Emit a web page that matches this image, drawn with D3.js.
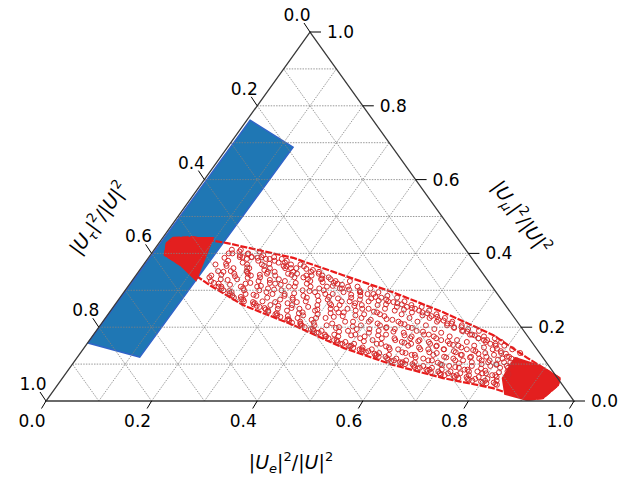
<!DOCTYPE html>
<html>
<head>
<meta charset="utf-8">
<script src="https://cdn.jsdelivr.net/npm/d3@7"></script>
<style>
  body { margin: 0; background: #fff; }
  text { font-family: "DejaVu Sans", sans-serif; fill: #000; }
</style>
</head>
<body>
<script>
// ternary coordinates are stored as [e, mu]; tau = 1 - e - mu
const tickValues = [0, 0.2, 0.4, 0.6, 0.8, 1.0];
const tickLabels = ['0.0', '0.2', '0.4', '0.6', '0.8', '1.0'];
const gridSteps = [0.1, 0.2, 0.3, 0.4, 0.5, 0.6, 0.7, 0.8, 0.9];

// blue band (tau-dominated points), dense enough to read as a filled region
const blueBand = [[0.006, 0.761], [0.124, 0.688], [0.118, 0.119], [0.001, 0.157]];

// red region outline (dense markers on the edge)
const redOutline = [
  [0.020, 0.442], [0.056, 0.444], [0.129, 0.428], [0.274, 0.388], [0.392, 0.341],
  [0.509, 0.295], [0.631, 0.241], [0.757, 0.179], [0.853, 0.117], [0.942, 0.062],
  [0.948, 0.043], [0.937, 0.008], [0.910, 0.003], [0.829, 0.035], [0.721, 0.062],
  [0.608, 0.098], [0.491, 0.144], [0.365, 0.206], [0.243, 0.260], [0.153, 0.314],
  [0.070, 0.369], [0.027, 0.396], [0.015, 0.428]
];
// saturated ends of the red region
const redLeftCap = [[0.015, 0.428], [0.020, 0.442], [0.095, 0.442], [0.120, 0.328], [0.070, 0.369], [0.027, 0.396]];
const redRightCap = [[0.830, 0.117], [0.888, 0.095], [0.942, 0.062], [0.948, 0.043], [0.937, 0.008], [0.910, 0.003], [0.860, 0.019], [0.834, 0.062]];

// interior red points [e, mu]
const redPointsA = [
  [.143,.34],[.136,.37],[.146,.40],[.158,.32],[.161,.35],[.155,.38],[.164,.41],[.166,.33],[.172,.39],
  [.177,.31],[.184,.345],[.175,.36],[.183,.40],[.186,.30],[.196,.37],[.188,.385],
  [.204,.295],[.197,.33],[.206,.35],[.195,.39],[.202,.405],[.214,.31],[.205,.36],[.212,.38],
  [.216,.28],[.225,.30],[.218,.34],[.224,.37],[.214,.395],[.233,.29],[.227,.32],[.236,.355],[.231,.385],
  [.236,.275],[.245,.31],[.238,.335],[.244,.36],[.237,.39],[.254,.30],[.246,.345],[.253,.375],
  [.263,.265],[.256,.285],[.264,.32],[.258,.35],[.266,.38],[.275,.27],[.268,.305],[.273,.36],[.265,.375],
  [.277,.255],[.284,.29],[.276,.33],[.286,.345],[.279,.37],[.295,.26],[.287,.315],[.293,.35],
  [.298,.245],[.306,.275],[.296,.30],[.303,.335],[.294,.36],[.314,.25],[.307,.29],[.313,.32],[.306,.365],
  [.317,.235],[.325,.265],[.316,.31],[.323,.34],[.328,.355],[.334,.245],[.327,.28],[.336,.30],[.331,.33],
  [.343,.23],[.336,.26],[.345,.285],[.338,.325],[.342,.35],[.347,.22],[.355,.25],[.346,.31],[.353,.34],
  [.364,.225],[.357,.27],[.362,.295],[.356,.33],[.374,.215],[.366,.24],[.372,.285],[.377,.31],[.368,.335],
  [.377,.21],[.384,.26],[.376,.30],[.385,.32],[.393,.22],[.387,.245],[.396,.275],[.386,.325],
  [.404,.195],[.397,.235],[.405,.265],[.398,.29],[.403,.315],[.406,.205],[.414,.25],[.408,.305],[.413,.325],
  [.424,.185],[.417,.225],[.425,.27],[.416,.295],[.427,.19],[.434,.24],[.426,.26],[.435,.31],
  [.443,.175],[.437,.21],[.446,.25],[.438,.28],[.444,.30],[.456,.18],[.447,.23],[.453,.265],[.448,.295],
  [.463,.165],[.455,.20],[.464,.245],[.457,.275],[.462,.305],[.466,.175],[.474,.215],[.468,.26],[.475,.29],
  [.484,.155],[.477,.19],[.485,.235],[.476,.27],[.482,.295],[.487,.16],[.494,.205],[.486,.25],[.495,.28],
  [.503,.15],[.496,.18],[.505,.22],[.498,.26],[.504,.285],[.506,.155],[.515,.195],[.507,.24],[.513,.27],
  [.524,.14],[.516,.175],[.523,.21],[.517,.25],[.525,.28],[.527,.145],[.535,.19],[.526,.23],[.533,.265],
  [.543,.135],[.536,.165],[.545,.20],[.538,.245],[.544,.27],[.547,.14],[.554,.18],[.546,.22],[.556,.255],
  [.564,.125],[.557,.155],[.563,.195],[.556,.235],[.562,.26],[.566,.13],[.575,.17],[.567,.21],[.574,.25],
  [.583,.12],[.577,.145],[.585,.185],[.576,.225],[.584,.255],[.587,.125],[.594,.16],[.586,.20],[.593,.24],
  [.604,.11],[.597,.14],[.605,.175],[.596,.215],[.603,.245],[.606,.115],[.614,.155],[.607,.19],[.615,.23],
  [.623,.105],[.616,.13],[.625,.165],[.617,.205],[.622,.235],[.627,.11],[.634,.145],[.626,.18],[.633,.22],
  [.644,.10],[.636,.125],[.645,.16],[.638,.195],[.643,.225],[.646,.105],[.654,.14],[.647,.175],[.655,.21],
  [.663,.09],[.657,.115],[.665,.15],[.656,.185],[.662,.215],[.667,.095],[.675,.13],[.666,.165],[.673,.20],
  [.684,.085],[.676,.11],[.683,.14],[.677,.175],[.685,.205],[.686,.09],[.694,.12],[.687,.155],[.695,.19],
  [.703,.08],[.697,.10],[.705,.135],[.696,.165],[.702,.195],[.707,.085],[.714,.115],[.706,.15],[.713,.18],
  [.724,.075],[.716,.095],[.723,.125],[.717,.16],[.725,.19],[.726,.08],[.735,.11],[.727,.14],[.734,.17],
  [.743,.07],[.737,.09],[.745,.12],[.736,.15],[.742,.175],[.747,.075],[.754,.105],[.746,.135],[.753,.165],
  [.764,.065],[.756,.085],[.763,.115],[.757,.145],[.765,.17],[.766,.07],[.775,.10],[.767,.13],[.774,.155],
  [.783,.06],[.777,.08],[.785,.11],[.776,.14],[.782,.16],[.787,.065],[.794,.095],[.786,.125],[.793,.15],
  [.804,.055],[.796,.075],[.803,.10],[.797,.13],[.806,.06],[.815,.09],[.807,.115],[.813,.14],
  [.823,.05],[.816,.07],[.825,.095],[.817,.12],[.826,.055],[.834,.08],[.827,.105],[.833,.13]
];
const redPointsB = [
  [.142,.335],[.150,.352],[.144,.388],[.147,.41],[.150,.325],[.159,.366],[.155,.372],[.153,.40],
  [.168,.318],[.161,.342],[.170,.395],[.164,.405],[.172,.31],[.180,.328],[.174,.352],[.177,.39],
  [.180,.305],[.189,.338],[.185,.375],[.183,.398],[.198,.298],[.191,.315],[.200,.362],[.194,.39],
  [.202,.292],[.210,.345],[.204,.352],[.207,.388],[.210,.286],[.219,.318],[.215,.334],[.213,.39],
  [.228,.282],[.221,.305],[.230,.366],[.224,.385],[.232,.276],[.240,.325],[.234,.342],[.237,.372],
  [.240,.27],[.249,.288],[.245,.35],[.243,.38],[.258,.268],[.251,.312],[.260,.328],[.254,.385],
  [.262,.262],[.270,.295],[.264,.34],[.267,.366],[.270,.258],[.279,.28],[.275,.318],[.273,.365],
  [.288,.252],[.281,.302],[.290,.325],[.284,.36],[.292,.248],[.300,.268],[.294,.342],[.297,.37],
  [.300,.242],[.309,.285],[.305,.31],[.303,.345],[.318,.238],[.311,.258],[.320,.335],[.314,.358],
  [.322,.232],[.330,.275],[.324,.292],[.327,.35],[.330,.228],[.339,.252],[.335,.318],[.333,.34],
  [.348,.222],[.341,.268],[.350,.298],[.344,.345],[.352,.218],[.360,.238],[.354,.28],[.357,.332],
  [.360,.212],[.369,.255],[.365,.305],[.363,.322],[.378,.208],[.371,.232],[.380,.272],[.374,.33],
  [.382,.205],[.390,.248],[.384,.29],[.387,.312],[.390,.2],[.399,.225],[.395,.282],[.393,.318],
  [.408,.195],[.401,.212],[.410,.26],[.404,.305],[.412,.19],[.420,.238],[.414,.278],[.417,.31],
  [.420,.185],[.429,.205],[.425,.25],[.423,.302],[.438,.18],[.431,.228],[.440,.27],[.434,.288],
  [.442,.175],[.450,.198],[.444,.24],[.447,.295],[.450,.17],[.459,.215],[.455,.258],[.453,.285],
  [.468,.165],[.461,.188],[.470,.232],[.464,.29],[.472,.16],[.480,.202],[.474,.25],[.477,.278],
  [.480,.155],[.489,.178],[.485,.225],[.483,.282],[.498,.15],[.491,.195],[.500,.242],[.494,.272],
  [.502,.148],[.510,.17],[.504,.215],[.507,.275],[.510,.144],[.519,.185],[.515,.235],[.513,.262],
  [.528,.14],[.521,.162],[.530,.205],[.524,.268],[.532,.136],[.540,.178],[.534,.222],[.537,.255],
  [.540,.132],[.549,.155],[.545,.198],[.543,.262],[.558,.128],[.551,.17],[.560,.215],[.554,.248],
  [.562,.124],[.570,.148],[.564,.188],[.567,.252],[.570,.12],[.579,.165],[.575,.208],[.573,.24],
  [.588,.116],[.581,.14],[.590,.178],[.584,.245],[.592,.112],[.600,.158],[.594,.198],[.597,.232],
  [.600,.108],[.609,.132],[.605,.17],[.603,.238],[.618,.105],[.611,.15],[.620,.188],[.614,.225],
  [.622,.102],[.630,.125],[.624,.162],[.627,.228],[.630,.1],[.639,.14],[.635,.18],[.633,.215],
  [.648,.096],[.641,.118],[.650,.155],[.644,.218],[.652,.092],[.660,.132],[.654,.17],[.657,.205],
  [.660,.088],[.669,.11],[.665,.148],[.663,.21],[.678,.085],[.671,.125],[.680,.162],[.674,.198],
  [.682,.082],[.690,.104],[.684,.14],[.687,.2],[.690,.078],[.699,.118],[.695,.152],[.693,.19],
  [.708,.075],[.701,.098],[.710,.132],[.704,.188],[.712,.072],[.720,.11],[.714,.145],[.717,.18],
  [.720,.07],[.729,.092],[.725,.125],[.723,.178],[.738,.068],[.731,.102],[.740,.138],[.734,.17],
  [.742,.065],[.750,.085],[.744,.118],[.747,.165],[.750,.062],[.759,.095],[.755,.128],[.753,.16],
  [.768,.06],[.761,.08],[.770,.11],[.764,.155],[.772,.058],[.780,.088],[.774,.12],[.777,.15],
  [.780,.055],[.789,.075],[.785,.105],[.783,.142],[.798,.052],[.791,.082],[.800,.112],[.794,.135],
  [.802,.05],[.810,.07],[.804,.098],[.807,.128],[.810,.048],[.819,.078],[.815,.105],[.813,.12],
  [.828,.046],[.821,.065],[.830,.09],[.824,.115],[.832,.044],[.840,.072],[.834,.098],[.837,.11]
];

const width = 622, height = 477;

const svg = d3.select('body')
  .append('svg')
  .attr('width', width)
  .attr('height', height);

const x = d3.scaleLinear().domain([0, 1]).range([46, 574]);
const y = d3.scaleLinear().domain([0, 1]).range([401, 32]);
const pt = (e, mu) => [x(e + mu / 2), y(mu)];
const line = d3.line().x((d) => pt(d[0], d[1])[0]).y((d) => pt(d[0], d[1])[1]);

// blue band
svg.append('path')
  .attr('d', line(blueBand) + 'Z')
  .attr('fill', '#1f77b4')
  .attr('stroke', '#2f64c8')
  .attr('stroke-width', 1.5);

// red region
svg.append('path')
  .attr('d', line(redOutline) + 'Z')
  .attr('fill', 'none')
  .attr('stroke', '#ea1a1a')
  .attr('stroke-width', 2.2)
  .attr('stroke-dasharray', '7,1.5')
  .attr('stroke-linejoin', 'round');

[redLeftCap, redRightCap].forEach((cap) => {
  svg.append('path')
    .attr('d', line(cap) + 'Z')
    .attr('fill', '#e31f1f')
    .attr('stroke', '#e31f1f')
    .attr('stroke-width', 2);
});

svg.append('g')
  .selectAll('circle')
  .data(redPointsA.concat(redPointsB))
  .enter()
  .append('circle')
  .attr('cx', (d) => pt(d[0], d[1])[0])
  .attr('cy', (d) => pt(d[0], d[1])[1])
  .attr('r', 2.5)
  .attr('fill', 'none')
  .attr('stroke', '#d62728')
  .attr('stroke-width', 1);

// grid
const grid = svg.append('g')
  .attr('stroke', '#808080')
  .attr('stroke-width', 0.8)
  .attr('stroke-dasharray', '1.5,1.2');

gridSteps.forEach((k) => {
  [[[0, k], [1 - k, k]], [[k, 0], [k, 1 - k]], [[1 - k, 0], [0, 1 - k]]].forEach((seg) => {
    grid.append('path').attr('d', line(seg)).attr('fill', 'none');
  });
});

// triangle edges
svg.append('path')
  .attr('d', line([[0, 0], [1, 0], [0, 1]]) + 'Z')
  .attr('fill', 'none')
  .attr('stroke', '#3a3a3a')
  .attr('stroke-width', 1.3);

// ticks
const ticks = svg.append('g').attr('stroke', '#000').attr('stroke-width', 1);
tickValues.forEach((v, i) => {
  // bottom: |Ue|^2
  let p = pt(v, 0);
  ticks.append('line').attr('x1', p[0]).attr('y1', p[1]).attr('x2', p[0] - 4.5).attr('y2', p[1] + 7.5);
  svg.append('text').attr('x', p[0] - 14).attr('y', p[1] + 26)
    .attr('text-anchor', 'middle').attr('font-size', 17).text(tickLabels[i]);

  // right: |Umu|^2
  p = pt(1 - v, v);
  ticks.append('line').attr('x1', p[0]).attr('y1', p[1]).attr('x2', p[0] + 11).attr('y2', p[1]);
  svg.append('text').attr('x', p[0] + 17).attr('y', p[1] + 6)
    .attr('text-anchor', 'start').attr('font-size', 17).text(tickLabels[i]);

  // left: |Utau|^2
  p = pt(0, 1 - v);
  ticks.append('line').attr('x1', p[0]).attr('y1', p[1]).attr('x2', p[0] - 6).attr('y2', p[1] - 9);
  svg.append('text').attr('x', p[0] - 13).attr('y', p[1] - 11)
    .attr('text-anchor', 'middle').attr('font-size', 17).text(tickLabels[i]);
});

// axis titles
function title(sub, tx, ty, angle) {
  const t = svg.append('text')
    .attr('transform', 'translate(' + tx + ',' + ty + ') rotate(' + angle + ')')
    .attr('text-anchor', 'middle')
    .attr('font-size', 19);
  t.append('tspan').text('|');
  t.append('tspan').attr('font-style', 'italic').text('U');
  t.append('tspan').attr('font-size', 13).attr('dy', 4).attr('font-style', 'italic').text(sub);
  t.append('tspan').attr('dy', -4).text('|');
  t.append('tspan').attr('font-size', 13).attr('dy', -8).text('2');
  t.append('tspan').attr('dy', 8).text('/|');
  t.append('tspan').attr('font-style', 'italic').text('U');
  t.append('tspan').text('|');
  t.append('tspan').attr('font-size', 13).attr('dy', -8).text('2');
}

title('e', 291, 469, 0);
title('μ', 516, 221, 54);
title('τ', 104, 222, -54);
</script>
</body>
</html>
